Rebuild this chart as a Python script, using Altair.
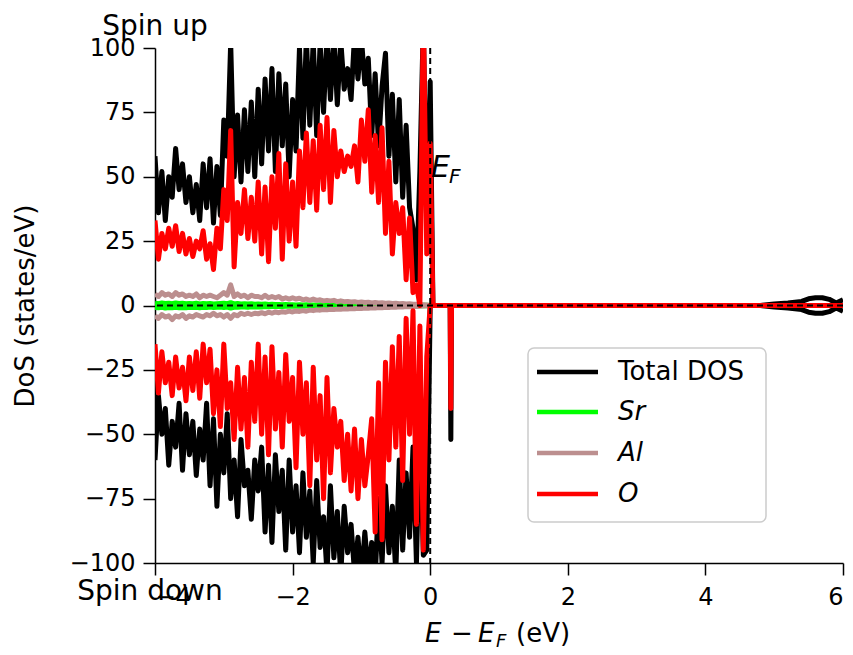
import altair as alt
import numpy as np
import pandas as pd

# ---------------- data ----------------
E_NEG = np.round(np.arange(-4.0, 0.0001, 0.05), 2)          # -4.00 ... 0.00 (81 points)
E_POS = [0.04, 0.29, 0.30, 0.31, 4.80, 5.00, 5.20, 5.40, 5.50, 5.60, 5.70, 5.80, 5.90, 6.00]

TOTAL_UP = [58, 36, 52, 33, 50, 42, 61, 45, 55, 40,
            50, 36, 47, 33, 55, 38, 57, 32, 54, 35,
            72, 58, 102, 50, 74, 48, 76, 52, 79, 50,
            84, 55, 88, 60, 92, 52, 90, 62, 86, 50,
            80, 60, 100, 65, 104, 70, 103, 66, 102, 75,
            105, 80, 104, 78, 103, 84, 92, 80, 105, 88,
            104, 86, 96, 66, 90, 62, 85, 98, 58, 82,
            48, 80, 42, 70, 38, 30, 10, 52, 110, 30,
            87,
            0, 0, 0, 0, 0, 0.6, 1.0, 1.6, 2.6, 3.0, 3.0, 2.4, 1.0, 2.2]
TOTAL_DOWN = [-60, -35, -50, -40, -62, -45, -55, -38, -64, -42,
              -58, -45, -66, -48, -60, -38, -70, -44, -78, -50,
              -65, -42, -75, -60, -82, -52, -70, -64, -83, -60,
              -72, -55, -88, -62, -92, -58, -80, -64, -95, -60,
              -88, -70, -96, -65, -90, -72, -100, -68, -94, -82,
              -104, -70, -98, -80, -105, -78, -96, -85, -104, -90,
              -106, -88, -104, -92, -106, -75, -100, -70, -96, -78,
              -104, -60, -95, -65, -90, -55, -100, -45, -97, -95,
              0,
              0, 0, -52, 0, 0, -0.6, -1.0, -1.6, -2.6, -3.0, -3.0, -2.4, -1.0, -2.2]
O_UP = [33, 18, 28, 22, 30, 23, 31, 21, 28, 20,
        26, 19, 25, 22, 29, 18, 24, 14, 30, 22,
        45, 33, 68, 15, 40, 28, 45, 26, 42, 25,
        48, 20, 46, 17, 50, 30, 59, 18, 55, 25,
        48, 23, 60, 38, 67, 40, 64, 37, 70, 45,
        73, 40, 68, 50, 60, 52, 58, 54, 62, 48,
        72, 56, 76, 44, 66, 40, 69, 28, 56, 20,
        40, 28, 38, 10, 34, 5, 8, 0, 115, 20,
        63,
        0, 0, 0, 0, 0, 0, 0, 0, 0, 0, 0, 0, 0, 0]
O_DOWN = [-15, -34, -18, -30, -22, -35, -20, -32, -24, -37,
          -20, -33, -18, -36, -15, -30, -17, -42, -25, -47,
          -15, -40, -30, -52, -24, -48, -28, -55, -22, -45,
          -15, -50, -20, -58, -16, -48, -26, -55, -19, -45,
          -28, -63, -22, -50, -30, -70, -24, -60, -35, -75,
          -28, -65, -40, -55, -45, -68, -50, -72, -48, -75,
          -52, -70, -58, -44, -88, -30, -91, -22, -60, -16,
          -55, -12, -68, -5, -50, -2, -85, -8, -95, -20,
          0,
          0, 0, -40, 0, 0, 0, 0, 0, 0, 0, 0, 0, 0, 0]
AL_UP = [4.5, 3.5, 5, 4, 4.5, 3.5, 5, 4, 4.5, 3.5,
         4, 3.5, 4.5, 3, 4, 3.5, 4, 3.5, 3, 4,
         5, 4, 8, 3.5, 4.5, 3.5, 4, 3, 4, 3.5,
         3.5, 3, 4, 3, 3.5, 3, 3.5, 2.5, 3, 2.5,
         3, 2.5, 2.8, 2.2, 2.5, 2, 2.5, 2, 2.2, 1.8,
         2, 1.8, 2, 1.5, 1.8, 1.5, 1.6, 1.4, 1.5, 1.2,
         1.4, 1.2, 1.3, 1, 1.2, 1, 1.1, 0.9, 1, 0.8,
         0.9, 0.7, 0.8, 0.6, 0.7, 0.5, 0.5, 0.4, 0.3, 0.2,
         0,
         0, 0, 0, 0, 0, 0, 0, 0, 0, 0, 0, 0, 0, 0]
AL_DOWN = [-4, -5, -3.5, -4.5, -4, -5.5, -4, -4.5, -3.5, -5,
           -4, -4.5, -3.5, -4, -4.5, -3.5, -4, -3, -4, -3.5,
           -4.5, -3.5, -5, -3.5, -4, -3, -3.5, -3, -3.5, -3,
           -3.2, -2.8, -3.2, -2.6, -3, -2.5, -2.8, -2.4, -2.6, -2.2,
           -2.5, -2.1, -2.3, -2, -2.2, -1.8, -2, -1.7, -1.8, -1.6,
           -1.7, -1.5, -1.6, -1.4, -1.5, -1.3, -1.4, -1.2, -1.3, -1.1,
           -1.2, -1, -1.1, -0.9, -1, -0.8, -0.9, -0.7, -0.8, -0.6,
           -0.7, -0.5, -0.6, -0.4, -0.5, -0.3, -0.4, -0.3, -0.2, -0.1,
           0,
           0, 0, 0, 0, 0, 0, 0, 0, 0, 0, 0, 0, 0, 0]
SR_UP = [0.9, 0.7, 1.0, 0.8, 0.9, 0.7, 1.0, 0.8, 0.9, 0.7,
         0.8, 0.7, 0.9, 0.6, 0.8, 0.7, 0.8, 0.6, 0.7, 0.8,
         0.9, 0.7, 1.1, 0.6, 0.8, 0.6, 0.7, 0.6, 0.7, 0.5,
         0.6, 0.5, 0.6, 0.4, 0.5, 0.4, 0.4, 0.3, 0.4, 0.3,
         0.3, 0.2, 0.3, 0.2, 0.3, 0.2, 0.2, 0.2, 0.3, 0.2,
         0.2, 0.2, 0.2, 0.1, 0.2, 0.1, 0.2, 0.1, 0.1, 0.1,
         0.1, 0.1, 0.1, 0.1, 0.1, 0.1, 0.1, 0.1, 0.1, 0.1,
         0.1, 0.1, 0.1, 0.1, 0.1, 0.1, 0.1, 0.1, 0.1, 0.1,
         0,
         0, 0, 0, 0, 0, 0, 0, 0, 0, 0, 0, 0, 0, 0]
SR_DOWN = [-0.8, -0.9, -0.7, -1.0, -0.8, -0.9, -0.7, -0.9, -0.8, -0.9,
           -0.7, -0.8, -0.7, -0.9, -0.7, -0.8, -0.6, -0.8, -0.7, -0.6,
           -0.8, -0.6, -1.0, -0.7, -0.7, -0.6, -0.6, -0.7, -0.5, -0.6,
           -0.5, -0.6, -0.4, -0.5, -0.4, -0.4, -0.3, -0.4, -0.3, -0.3,
           -0.2, -0.3, -0.2, -0.3, -0.2, -0.2, -0.2, -0.3, -0.2, -0.2,
           -0.2, -0.1, -0.2, -0.1, -0.2, -0.1, -0.1, -0.1, -0.1, -0.1,
           -0.1, -0.1, -0.1, -0.1, -0.1, -0.1, -0.1, -0.1, -0.1, -0.1,
           -0.1, -0.1, -0.1, -0.1, -0.1, -0.1, -0.1, -0.1, -0.1, -0.1,
           0,
           0, 0, 0, 0, 0, 0, 0, 0, 0, 0, 0, 0, 0, 0]

SPECIES = ["Total DOS", "Sr", "Al", "O"]
COLORS = {"Total DOS": "#000000", "Sr": "#00ff00", "Al": "#bc8f8f", "O": "#ff0000"}
SERIES = {"Total DOS": (TOTAL_UP, TOTAL_DOWN), "Sr": (SR_UP, SR_DOWN),
          "Al": (AL_UP, AL_DOWN), "O": (O_UP, O_DOWN)}

E_ALL = list(E_NEG) + E_POS
rows = []
for sp in SPECIES:
    up, dn = SERIES[sp]
    for e, v in zip(E_ALL, up):
        rows.append({"E": e, "dos": v, "species": sp, "spin": "up"})
    for e, v in zip(E_ALL, dn):
        rows.append({"E": e, "dos": v, "species": sp, "spin": "down"})
df = pd.DataFrame(rows)

FONT = "DejaVu Sans"
one = pd.DataFrame({"k": [0]})
MINUS = "replace(datum.label, '-', '\u2212')"

x_enc = alt.X("E:Q", scale=alt.Scale(domain=[-4, 6], nice=False, zero=False),
              axis=alt.Axis(values=[-4, -2, 0, 2, 4, 6], format="d", title=None, grid=False,
                            labelExpr=MINUS, labelFontSize=24, labelPadding=10, tickSize=12))
y_enc = alt.Y("dos:Q", scale=alt.Scale(domain=[-100, 100], nice=False, zero=False),
              axis=alt.Axis(values=list(range(-100, 101, 25)), format="d", title=None, grid=False,
                            labelExpr=MINUS, labelFontSize=24, labelPadding=8, tickSize=12))

base = alt.Chart(df).encode(x=x_enc, y=y_enc, detail="spin:N")
layers = []
for sp in SPECIES:
    layers.append(base.transform_filter(alt.datum.species == sp)
                  .mark_line(color=COLORS[sp], strokeWidth=5, strokeJoin="round", clip=True))

# dashed reference lines
layers.append(alt.Chart(one).mark_rule(color="black", strokeWidth=2, strokeDash=[6, 4])
              .encode(y=alt.datum(0)))
layers.append(alt.Chart(one).mark_rule(color="black", strokeWidth=2, strokeDash=[6, 4])
              .encode(x=alt.datum(0)))

def txt(text, x, y, size, style="normal", align="left", baseline="alphabetic", angle=0):
    return alt.Chart(one).mark_text(text=text, font=FONT, fontSize=size, fontStyle=style,
                                    align=align, baseline=baseline, angle=angle,
                                    color="black").encode(x=alt.value(x), y=alt.value(y))

# E_F label
layers.append(txt("E", 276, 129, 30, "italic"))
layers.append(txt("F", 294, 135, 20, "italic"))
# spin labels
layers.append(txt("Spin up", 0, -13, 28, align="center"))
layers.append(txt("Spin down", -5, 552, 28, align="center"))
# axis titles
layers.append(txt("DoS (states/eV)", -129, 258, 26, align="center", baseline="middle", angle=270))
layers.append(txt("E", 270, 594, 26, "italic"))
layers.append(txt("\u2212", 307, 594, 26, align="center"))
layers.append(txt("E", 323, 594, 26, "italic"))
layers.append(txt("F", 341, 599, 18, "italic"))
layers.append(txt("(eV)", 361, 594, 26))

# legend
layers.append(alt.Chart(one).mark_rect(fill="white", fillOpacity=0.8, stroke="#cccccc",
                                       strokeWidth=1.5, cornerRadius=6)
              .encode(x=alt.value(373), x2=alt.value(611), y=alt.value(300), y2=alt.value(474)))
LEG_Y = [324, 364, 405, 446]
LEG_STYLE = ["normal", "italic", "italic", "italic"]
for sp, ly, st in zip(SPECIES, LEG_Y, LEG_STYLE):
    layers.append(alt.Chart(one).mark_rule(color=COLORS[sp], strokeWidth=4.5)
                  .encode(x=alt.value(382), x2=alt.value(443), y=alt.value(ly)))
    layers.append(txt(sp, 463, ly, 26, st, baseline="middle"))

chart = alt.layer(*layers).properties(
    width=688, height=515,
    padding={"left": 155, "top": 48, "right": 10, "bottom": 92},
    autosize=alt.AutoSizeParams(type="none"),
).configure_view(stroke=None).configure_axis(
    labelFont=FONT, labelColor="black", domainColor="black", domainWidth=1.5,
    tickColor="black", tickWidth=1.5,
)

chart.save("out.html", embed_options={"renderer": "svg", "actions": False})
